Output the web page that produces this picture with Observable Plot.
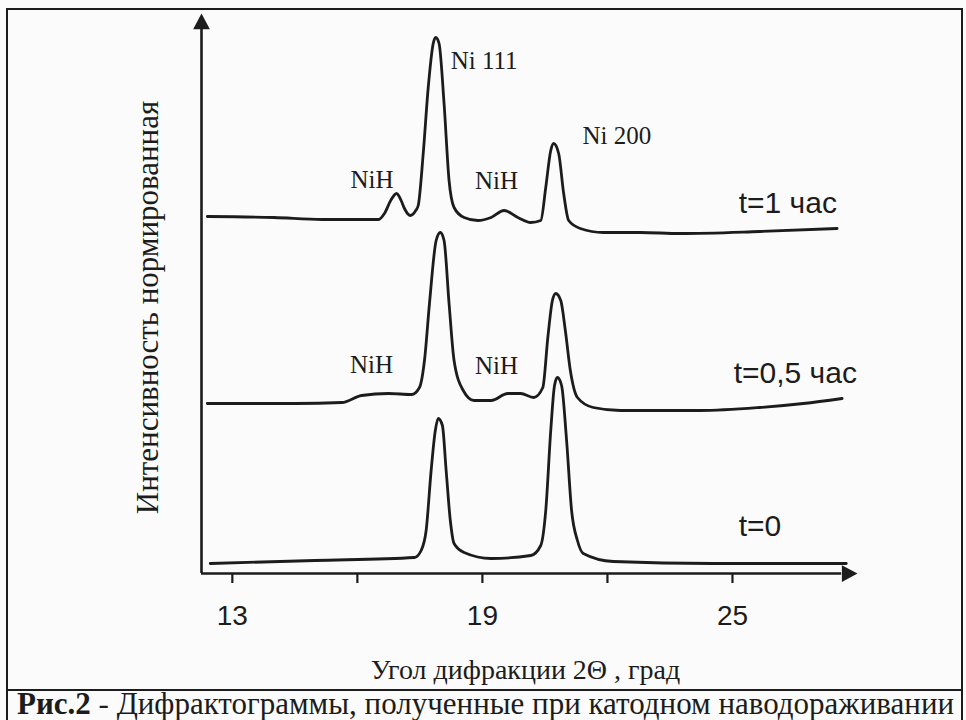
<!DOCTYPE html>
<html><head><meta charset="utf-8">
<script src="https://cdn.jsdelivr.net/npm/d3@7"></script>
<script src="https://cdn.jsdelivr.net/npm/@observablehq/plot@0.6"></script>
<style>
html,body{margin:0;padding:0;background:#fbfbfb;}
body{width:966px;height:720px;position:relative;overflow:hidden;font-family:"Liberation Serif","Times New Roman",serif;color:#1c1c1c;}
#frame{position:absolute;left:6px;top:8px;width:953px;height:720px;border:2px solid #1c1c1c;}
#chart{position:absolute;left:0;top:0;}
#divider{position:absolute;left:6px;top:689px;width:957px;height:2px;background:#1c1c1c;}
#caption{position:absolute;left:17px;top:688px;font-size:31px;line-height:31px;white-space:nowrap;}
</style></head><body>
<div id="frame"></div>
<div id="chart"></div>
<div id="divider"></div>
<div id="caption"><b>Рис.2</b> - Дифрактограммы, полученные при катодном наводораживании</div>
<script>
// Diffraction angle 2Θ (deg) and normalized intensity (offset stacked)
const angle_t0 = [12.47,14.98,17.37,17.53,17.65,17.77,17.87,17.94,18.04,18.13,18.23,18.32,18.56,19.21,20.16,20.40,20.52,20.64,20.73,20.80,20.90,21.02,21.14,21.28,21.42,22.14,24.53,27.73];
const int_t0   = [1.0,1.3,1.6,2.3,4.3,10.3,14.3,15.5,14.8,10.3,5.3,3.0,2.1,1.5,1.8,2.8,6.3,14.3,18.8,19.6,18.8,13.3,6.3,3.3,2.0,1.2,1.0,1.0];

const angle_t05 = [12.40,14.50,15.63,16.10,16.75,17.30,17.49,17.61,17.73,17.89,17.99,18.08,18.20,18.32,18.54,18.80,19.21,19.61,19.92,20.23,20.45,20.57,20.68,20.76,20.88,20.99,21.11,21.28,21.66,22.31,22.79,24.22,25.65,26.70,27.63];
const int_t05   = [17.0,17.0,17.1,17.8,18.0,17.9,18.6,21.3,27.0,33.3,34.1,33.3,27.0,21.3,18.3,17.3,17.3,18.0,18.0,17.6,18.6,23.6,27.3,28.0,27.3,24.3,20.3,17.6,16.6,16.3,16.3,16.3,16.6,17.0,17.5];

const angle_t1 = [12.40,14.00,15.15,16.51,16.65,16.80,16.94,17.05,17.13,17.27,17.40,17.46,17.58,17.70,17.82,17.88,17.96,18.08,18.20,18.32,18.56,18.89,19.21,19.52,19.85,20.16,20.40,20.52,20.64,20.71,20.83,20.95,21.07,21.35,21.90,22.79,23.74,25.65,27.51];
const int_t1   = [35.7,35.6,35.4,35.4,36.0,37.3,38.0,37.3,36.5,35.8,36.3,36.8,42.0,48.6,53.0,53.6,53.0,47.0,39.3,36.6,35.6,35.3,35.6,36.3,35.6,35.1,35.3,38.6,42.3,43.0,42.0,38.0,35.3,34.5,34.1,34.1,34.0,34.2,34.5];

// axis
const xMin = 12.26, xMax = 28.0, yMax = 56;
const tickValues = [13, 16, 19, 22, 25];
const tickLabels = [13, 19, 25];

// annotations
const peakNames  = ["Ni 111", "Ni 200"];
const peakAngle  = [18.24, 21.40];
const peakLevel  = [50.5, 43.0];
const hydName    = ["NiH", "NiH", "NiH", "NiH"];
const hydAngle   = [16.35, 19.34, 16.34, 19.34];
const hydLevel   = [38.6, 38.5, 20.1, 20.0];
const seriesName = ["t=1 час", "t=0,5 час", "t=0"];
const seriesAngle = [25.15, 25.03, 25.15];
const seriesLevel = [36.1, 19.1, 3.8];

const rows = [];
[["t=0", angle_t0, int_t0], ["t=0,5 час", angle_t05, int_t05], ["t=1 час", angle_t1, int_t1]]
  .forEach(([s, xs, ys]) => xs.forEach((x, i) => rows.push({series: s, angle: x, intensity: ys[i]})));

const peaks = peakNames.map((t, i) => ({t, x: peakAngle[i], y: peakLevel[i]}));
const hyd = hydName.map((t, i) => ({t, x: hydAngle[i], y: hydLevel[i]}));
const slabels = seriesName.map((t, i) => ({t, x: seriesAngle[i], y: seriesLevel[i]}));

const arrowRight = {draw(ctx, size) { const s = Math.sqrt(size); ctx.moveTo(0, 0); ctx.lineTo(-1.4 * s, -0.75 * s); ctx.lineTo(-1.4 * s, 0.75 * s); ctx.closePath(); }};
const arrowUp = {draw(ctx, size) { const s = Math.sqrt(size); ctx.moveTo(0, 0); ctx.lineTo(-0.75 * s, 1.4 * s); ctx.lineTo(0.75 * s, 1.4 * s); ctx.closePath(); }};

const ink = "#1c1c1c";
const serif = "Liberation Serif, Times New Roman, serif";
const sans = "Liberation Sans, Arial, sans-serif";

const chart = Plot.plot({
  width: 966, height: 688,
  marginLeft: 201, marginRight: 109, marginTop: 13, marginBottom: 115,
  x: {domain: [xMin, xMax]},
  y: {domain: [0, yMax], axis: null},
  style: {background: "transparent", color: ink, fontFamily: sans, overflow: "visible"},
  marks: [
    Plot.ruleY([0], {x1: xMin, x2: 27.62, stroke: ink, strokeWidth: 2.6}),
    Plot.ruleX([xMin], {y1: 0, y2: 54.4, stroke: ink, strokeWidth: 2.6}),
    Plot.dot([{x: xMax, y: 0}], {x: "x", y: "y", symbol: arrowRight, r: 6.3, fill: ink, stroke: "none"}),
    Plot.dot([{x: xMin, y: yMax}], {x: "x", y: "y", symbol: arrowUp, r: 6.3, fill: ink, stroke: "none"}),
    Plot.axisX({ticks: tickValues, tickSize: 10, tickPadding: 22, strokeWidth: 2.2,
      tickFormat: d => tickLabels.includes(d) ? String(d) : "", fontSize: 28, fontFamily: sans, label: null}),
    Plot.line(rows, {x: "angle", y: "intensity", z: "series", curve: "monotone-x", stroke: ink, strokeWidth: 2.8}),
    Plot.text(peaks, {x: "x", y: "y", text: "t", textAnchor: "start", lineAnchor: "bottom", fontSize: 25, fontFamily: serif, fill: ink}),
    Plot.text(hyd, {x: "x", y: "y", text: "t", textAnchor: "middle", lineAnchor: "bottom", fontSize: 25, fontFamily: serif, fill: ink}),
    Plot.text(slabels, {x: "x", y: "y", text: "t", textAnchor: "start", lineAnchor: "bottom", fontSize: 30, fontFamily: sans, fill: ink}),
    Plot.text(["Интенсивность нормированная"], {frameAnchor: "left", textAnchor: "middle", rotate: -90, dx: -53, dy: 14, fontSize: 31, fontFamily: serif, fill: ink}),
    Plot.text(["Угол дифракции 2Θ , град"], {frameAnchor: "bottom", textAnchor: "middle", lineAnchor: "bottom", dx: -4, dy: 105, fontSize: 28, fontFamily: serif, fill: ink})
  ]
});
document.getElementById("chart").appendChild(chart);
</script>
</body></html>
